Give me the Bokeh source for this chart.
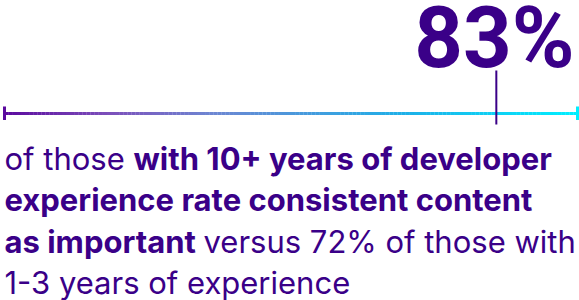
from bokeh.plotting import figure
from bokeh.models import Range1d
from bokeh.core.properties import value
from bokeh.embed import file_html
from bokeh.resources import INLINE
import numpy as np

# ---- data ----
headline_value = 83          # % of those with 10+ years
comparison_value = 72        # % of those with 1-3 years
scale_start = -20
scale_end = 100

body_segments = ["of those", "with 10+ years of developer",
                 "experience rate consistent content",
                 "as important", f"versus {comparison_value}% of those with",
                 "1-3 years of experience"]
body_bold = [False, True, True, True, False, False]
body_line = [0, 0, 1, 2, 2, 3]

# ---- layout / style ----
W, H = 579, 300
DARK = "#3A0088"
BODY_FONT = "Inter"
BODY_SIZE = 31
HEAD_SIZE = 85
BASE_SHIFT = 0.36            # em shift of Bokeh alphabetic baseline (calibrated)
seg_x = [4, 133, 4, 4, 203, 4]
line_baselines = [169.5, 210.5, 252.5, 293.5]
track_px = (4, 577)          # canvas px of scale_start / scale_end
track_y = 113
tick_top, tick_bot = 106, 119.5
marker_top, marker_bot = 70, 124
grad_pos = [0.0, 0.18, 0.36, 0.7, 1.0]
grad_col = ["#5B0A9E", "#7C4FBA", "#6E86D2", "#1DB0E8", "#00EFFF"]

p = figure(width=W, height=H, output_backend="svg", toolbar_location=None,
           x_range=Range1d(0, W), y_range=Range1d(H, 0), min_border=0)
p.axis.visible = False
p.grid.visible = False
p.outline_line_color = None
p.background_fill_color = "white"
p.border_fill_color = "white"

# percent scale mapped onto the track
ppu = (track_px[1] - track_px[0]) / (scale_end - scale_start)
p.extra_x_ranges = {"pct": Range1d(scale_start - track_px[0] / ppu,
                                   scale_end + (W - track_px[1]) / ppu)}

def hex2rgb(h):
    return np.array([int(h[i:i + 2], 16) for i in (1, 3, 5)], dtype=float)

n = 140
edges = np.linspace(scale_start, scale_end, n + 1)
mids = (edges[:-1] + edges[1:]) / 2
frac = (mids - scale_start) / (scale_end - scale_start)
rgbs = np.array([hex2rgb(c) for c in grad_col])
cols = []
for f in frac:
    r = np.interp(f, grad_pos, rgbs[:, 0])
    g = np.interp(f, grad_pos, rgbs[:, 1])
    b = np.interp(f, grad_pos, rgbs[:, 2])
    cols.append("#%02x%02x%02x" % (int(round(r)), int(round(g)), int(round(b))))

p.segment(x0=edges[:-1], x1=edges[1:] + 0.05, y0=[track_y] * n, y1=[track_y] * n,
          line_color=cols, line_width=3, x_range_name="pct")

# end ticks
p.segment(x0=[scale_start, scale_end], x1=[scale_start, scale_end],
          y0=[tick_top] * 2, y1=[tick_bot] * 2,
          line_color=[grad_col[0], grad_col[-1]], line_width=3, x_range_name="pct")

# marker
p.segment(x0=[headline_value], x1=[headline_value], y0=[marker_top], y1=[marker_bot],
          line_color=DARK, line_width=2, x_range_name="pct")

# headline
p.text(x=[574], y=[68 - BASE_SHIFT * HEAD_SIZE], text=[f"{headline_value}%"],
       text_align="right", text_baseline="alphabetic", text_font=value("Roboto"),
       text_font_size=f"{HEAD_SIZE}px", text_font_style="bold", text_color=DARK)

# body text
for t, b, ln, x in zip(body_segments, body_bold, body_line, seg_x):
    p.text(x=[x], y=[line_baselines[ln] - BASE_SHIFT * BODY_SIZE], text=[t],
           text_align="left", text_baseline="alphabetic", text_font=value(BODY_FONT),
           text_font_size=f"{BODY_SIZE}px",
           text_font_style="bold" if b else "normal", text_color=DARK)

open("out.html", "w").write(file_html(p, INLINE))
